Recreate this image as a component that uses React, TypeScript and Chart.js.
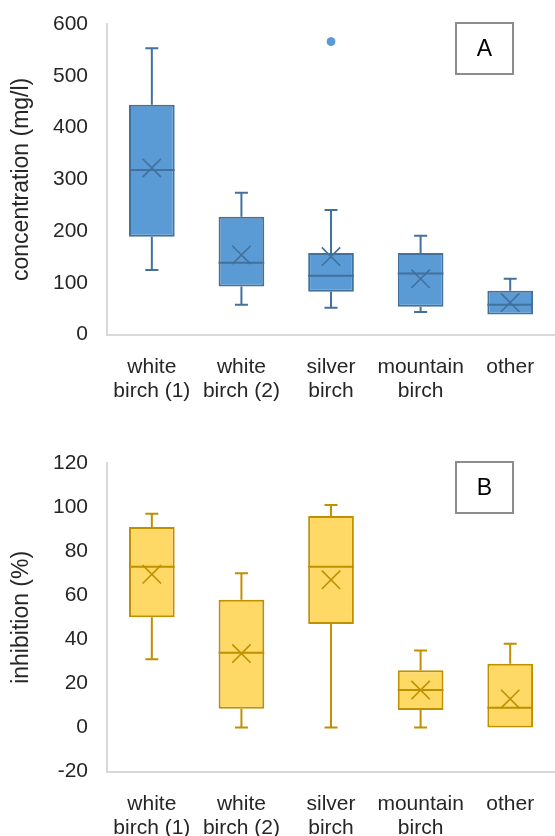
import React, { useEffect, useRef } from "react";
import { Chart, registerables } from "chart.js";

Chart.register(...registerables);

const categories: string[][] = [
  ["white", "birch (1)"],
  ["white", "birch (2)"],
  ["silver", "birch"],
  ["mountain", "birch"],
  ["other"],
];

// Panel A: concentration (mg/l)
const concMin = [125, 58, 52, 44, 39];
const concQ1 = [189, 93, 83, 54, 39];
const concMedian = [318, 139, 114, 118, 58];
const concQ3 = [444, 228, 158, 158, 85];
const concMax = [553, 274, 241, 191, 108];
const concMean = [322, 154, 151, 108, 62];
const concOutliers: (number | null)[] = [null, null, 566, null, null];
const concTicks = { min: 0, max: 600, step: 100 };

// Panel B: inhibition (%)
const inhMin = [31, 0, 0, 0, 0];
const inhQ1 = [50, 8.6, 47, 8, 0];
const inhMedian = [73, 34, 73, 17, 9];
const inhQ3 = [91, 58, 96, 26, 29];
const inhMax = [97, 70, 101, 35, 38];
const inhMean = [69.5, 33.6, 67, 17, 13];
const inhOutliers: (number | null)[] = [null, null, null, null, null];
const inhTicks = { min: -20, max: 120, step: 20 };

const FONT = "'Liberation Sans', Arial, sans-serif";
const TEXT = "#262626";
const AXIS = "#D9D9D9";

interface PanelProps {
  letter: string;
  yTitle: string;
  min: number[];
  q1: number[];
  median: number[];
  q3: number[];
  max: number[];
  mean: number[];
  outliers: (number | null)[];
  ticks: { min: number; max: number; step: number };
  fill: string;
  stroke: string;
  top: number;
  width: number;
  height: number;
  padTop: number;
  padBottom: number;
}

function BoxPanel(p: PanelProps) {
  const ref = useRef<HTMLCanvasElement | null>(null);
  useEffect(() => {
    if (!ref.current) return;
    const boxPlugin = {
      id: "boxparts",
      afterDatasetDraw(chart: any, args: any) {
        if (args.index !== 0) return;
        const ctx = chart.ctx;
        const y = chart.scales.y;
        const meta = chart.getDatasetMeta(0);
        ctx.save();
        ctx.strokeStyle = p.stroke;
        ctx.lineWidth = 2;
        meta.data.forEach((bar: any, i: number) => {
          const cx = bar.x;
          const hw = bar.width / 2;
          const cap = 6.5;
          const yMin = y.getPixelForValue(p.min[i]);
          const yQ1 = y.getPixelForValue(p.q1[i]);
          const yQ3 = y.getPixelForValue(p.q3[i]);
          const yMax = y.getPixelForValue(p.max[i]);
          const yMed = y.getPixelForValue(p.median[i]);
          ctx.beginPath();
          if (p.max[i] > p.q3[i]) {
            ctx.moveTo(cx, yQ3);
            ctx.lineTo(cx, yMax);
            ctx.moveTo(cx - cap, yMax);
            ctx.lineTo(cx + cap, yMax);
          }
          if (p.min[i] < p.q1[i]) {
            ctx.moveTo(cx, yQ1);
            ctx.lineTo(cx, yMin);
            ctx.moveTo(cx - cap, yMin);
            ctx.lineTo(cx + cap, yMin);
          }
          ctx.moveTo(cx - hw, yMed);
          ctx.lineTo(cx + hw, yMed);
          ctx.stroke();
        });
        ctx.restore();
      },
    };
    const labelPlugin = {
      id: "panelLabel",
      afterDraw(chart: any) {
        const ctx = chart.ctx;
        const a = chart.chartArea;
        const x = a.right - 99;
        const yy = a.top - 1;
        ctx.save();
        ctx.fillStyle = "#ffffff";
        ctx.fillRect(x, yy, 57, 51);
        ctx.strokeStyle = "#8C8C8C";
        ctx.lineWidth = 2;
        ctx.strokeRect(x, yy, 57, 51);
        ctx.fillStyle = "#000000";
        ctx.font = `23px ${FONT}`;
        ctx.textAlign = "center";
        ctx.textBaseline = "middle";
        ctx.fillText(p.letter, x + 28.5, yy + 26.5);
        ctx.restore();
      },
    };
    const chart = new Chart(ref.current, {
      type: "bar",
      data: {
        labels: categories,
        datasets: [
          {
            type: "bar",
            data: p.q1.map((v, i) => [v, p.q3[i]]),
            backgroundColor: p.fill,
            borderColor: p.stroke,
            borderWidth: 2,
            borderSkipped: false,
            barPercentage: 0.51,
            categoryPercentage: 1,
            order: 3,
          } as any,
          {
            type: "line",
            data: p.mean,
            showLine: false,
            pointStyle: "crossRot",
            pointRadius: 13,
            pointBorderColor: p.stroke,
            pointBorderWidth: 1.6,
            pointBackgroundColor: p.stroke,
            order: 1,
          } as any,
          {
            type: "line",
            data: p.outliers,
            showLine: false,
            pointStyle: "circle",
            pointRadius: 4,
            pointBorderColor: p.fill,
            pointBackgroundColor: p.fill,
            pointBorderWidth: 1,
            order: 1,
          } as any,
        ],
      },
      options: {
        animation: false,
        responsive: false,
        events: [],
        layout: {
          autoPadding: false,
          padding: { top: p.padTop, bottom: p.padBottom, left: 2, right: 0 },
        },
        plugins: {
          legend: { display: false },
          tooltip: { enabled: false },
        },
        scales: {
          x: {
            type: "category",
            offset: true,
            grid: { display: false, drawTicks: true, tickLength: 16 },
            border: { display: true, color: AXIS, width: 2 },
            ticks: {
              color: TEXT,
              font: { family: FONT, size: 21, lineHeight: 1.15 },
              padding: 4,
              maxRotation: 0,
              autoSkip: false,
            },
            afterFit(scale: any) {
              scale.paddingLeft = 0;
              scale.paddingRight = 0;
            },
          },
          y: {
            type: "linear",
            min: p.ticks.min,
            max: p.ticks.max,
            grid: { display: false, drawTicks: true, tickLength: 15 },
            border: { display: true, color: AXIS, width: 2 },
            ticks: {
              stepSize: p.ticks.step,
              color: TEXT,
              font: { family: FONT, size: 21 },
              padding: 4,
            },
            title: {
              display: true,
              text: p.yTitle,
              color: TEXT,
              font: { family: FONT, size: 23 },
              padding: { top: 6.2, bottom: 13.2 },
            },
          },
        },
      } as any,
      plugins: [boxPlugin, labelPlugin],
    });
    return () => chart.destroy();
  }, []);
  return (
    <canvas
      ref={ref}
      width={p.width}
      height={p.height}
      style={{
        position: "absolute",
        left: 0,
        top: p.top,
        display: "block",
        width: p.width,
        height: p.height,
      }}
    />
  );
}

export default function App() {
  return (
    <div
      style={{
        position: "fixed",
        left: 0,
        top: 0,
        width: 555,
        height: 836,
        overflow: "hidden",
        background: "#ffffff",
      }}
    >
      <BoxPanel
        letter="A"
        yTitle="concentration (mg/l)"
        min={concMin}
        q1={concQ1}
        median={concMedian}
        q3={concQ3}
        max={concMax}
        mean={concMean}
        outliers={concOutliers}
        ticks={concTicks}
        fill="#5B9BD5"
        stroke="#41719C"
        top={0}
        width={555}
        height={420}
        padTop={24}
        padBottom={13}
      />
      <BoxPanel
        letter="B"
        yTitle="inhibition (%)"
        min={inhMin}
        q1={inhQ1}
        median={inhMedian}
        q3={inhQ3}
        max={inhMax}
        mean={inhMean}
        outliers={inhOutliers}
        ticks={inhTicks}
        fill="#FFD966"
        stroke="#BF9000"
        top={420}
        width={555}
        height={426}
        padTop={43}
        padBottom={2}
      />
    </div>
  );
}
